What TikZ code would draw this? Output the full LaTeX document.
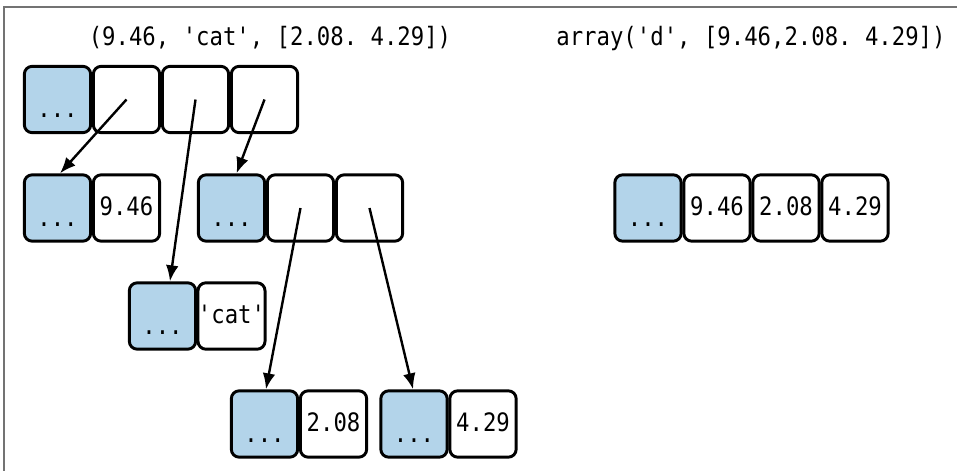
\documentclass[tikz,border=0pt]{standalone}
\usepackage{fontspec}
\setmonofont[FakeStretch=0.88]{DejaVu Sans Mono}
\usetikzlibrary{arrows.meta}
\definecolor{cellblue}{RGB}{179,212,234}
\tikzset {>={Latex[length=12pt,width=9.5pt]}}
\tikzset{
  cell/.style={draw,line width=2.2pt,rounded corners=6pt,minimum size=49.8pt,inner sep=0pt,
    font=\ttfamily\fontsize{19pt}{22pt}\selectfont,text height=10.5pt,text depth=0pt},
  hdr/.style={cell,fill=cellblue,text height=27pt},
  ptr/.style={->,line width=1.8pt},
  title/.style={anchor=base,font=\ttfamily\fontsize{19pt}{22pt}\selectfont}
}

\begin{document}
\begin{tikzpicture}[x=0.75pt,y=-0.75pt]
\useasboundingbox (0,0) rectangle (957,471);
\draw[black!55,line width=1.5pt] (4,471) -- (4,7) -- (957,7);

\node[title] (ttup) at (270,45) {(9.46, 'cat', [2.08. 4.29])};
\node[title] (tarr) at (751,45) {array('d', [9.46,2.08. 4.29])};

% tuple
\node[hdr] (t0) at (57.5,99.5) {...};
\node[cell] (t1) at (126.5,99.5) {};
\node[cell] (t2) at (195.5,99.5) {};
\node[cell] (t3) at (264.5,99.5) {};

% float
\node[hdr] (f0) at (57.5,208) {...};
\node[cell] (f1) at (126.5,208) {9.46};

% list
\node[hdr] (l0) at (231.5,208) {...};
\node[cell] (l1) at (300.5,208) {};
\node[cell] (l2) at (369.5,208) {};

% str
\node[hdr] (s0) at (162.5,316) {...};
\node[cell] (s1) at (231.5,316) {'cat'};

% floats in the list
\node[hdr] (a0) at (264.5,424) {...};
\node[cell] (a1) at (333.5,424) {2.08};
\node[hdr] (b0) at (414,424) {...};
\node[cell] (b1) at (483,424) {4.29};

% array
\node[hdr] (d0) at (648,208) {...};
\node[cell] (d1) at (717,208) {9.46};
\node[cell] (d2) at (786,208) {2.08};
\node[cell] (d3) at (855,208) {4.29};

\draw[ptr] (t1.center) -- ([xshift=1.9pt]f0.north);
\draw[ptr] (t2.center) -- ([xshift=5.6pt]s0.north);
\draw[ptr] (t3.center) -- ([xshift=3.8pt]l0.north);
\draw[ptr] (l1.center) -- ([xshift=1.1pt]a0.north);
\draw[ptr] (l2.center) -- ([xshift=-0.7pt]b0.north);
\end{tikzpicture}
\end{document}
